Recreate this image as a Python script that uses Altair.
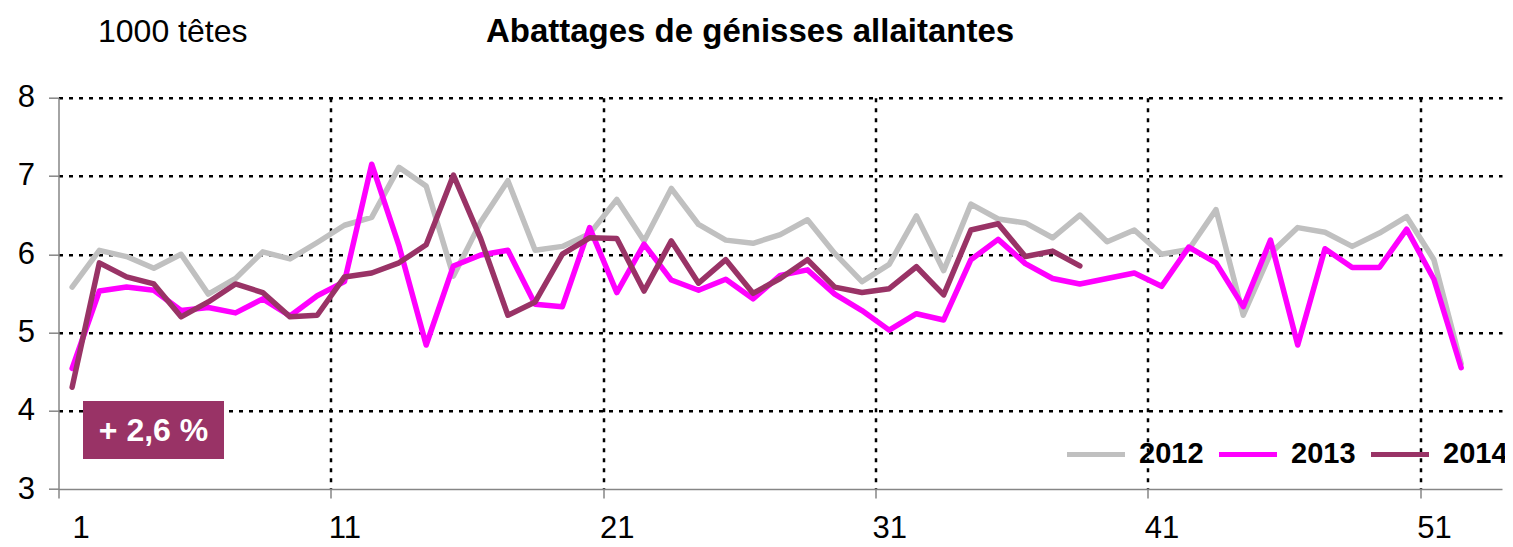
import altair as alt
import pandas as pd

FONT = "Liberation Sans"

years = ["2012", "2013", "2014"]
colors = ["#C0C0C0", "#FF00FF", "#993366"]

y2012 = [5.58, 6.05, 5.97, 5.82, 6.00, 5.49, 5.69, 6.03, 5.94, 6.15,
         6.37, 6.47, 7.11, 6.87, 5.72, 6.41, 6.94, 6.05, 6.10, 6.26,
         6.70, 6.17, 6.84, 6.38, 6.18, 6.14, 6.25, 6.44, 6.01, 5.65,
         5.87, 6.49, 5.79, 6.64, 6.45, 6.40, 6.21, 6.50, 6.16, 6.31,
         6.00, 6.06, 6.57, 5.22, 6.01, 6.34, 6.28, 6.10, 6.27, 6.48,
         5.93, 4.60]
y2013 = [4.54, 5.53, 5.58, 5.54, 5.28, 5.32, 5.25, 5.43, 5.21, 5.47,
         5.65, 7.15, 6.11, 4.84, 5.85, 5.99, 6.05, 5.36, 5.33, 6.34,
         5.51, 6.13, 5.67, 5.54, 5.68, 5.43, 5.73, 5.80, 5.49, 5.28,
         5.03, 5.24, 5.16, 5.93, 6.19, 5.88, 5.69, 5.62, 5.69, 5.76,
         5.59, 6.09, 5.89, 5.33, 6.18, 4.84, 6.07, 5.83, 5.83, 6.32,
         5.68, 4.55]
y2014 = [4.30, 5.89, 5.71, 5.62, 5.20, 5.39, 5.62, 5.51, 5.20, 5.22,
         5.71, 5.76, 5.89, 6.12, 7.01, 6.20, 5.22, 5.39, 6.00, 6.21,
         6.20, 5.53, 6.17, 5.63, 5.93, 5.50, 5.69, 5.93, 5.58, 5.51,
         5.56, 5.84, 5.48, 6.31, 6.39, 5.97, 6.04, 5.85]

x_tick_values = [0.5, 10.5, 20.5, 30.5, 40.5, 50.5]
y_tick_values = [3, 4, 5, 6, 7, 8]
title_text = ["Abattages de génisses allaitantes"]
annotation = ["+ 2,6 %"]

rows = []
for yr, vals in zip(years, [y2012, y2013, y2014]):
    for i, v in enumerate(vals):
        rows.append({"semaine": i + 1, "valeur": v, "annee": yr})
df = pd.DataFrame(rows)

W, H = 1443.5, 391.3

lines = alt.Chart(df).mark_line(strokeWidth=5.5, strokeCap="round", strokeJoin="round").encode(
    x=alt.X("semaine:Q",
            scale=alt.Scale(domain=[0.5, 53.5], nice=False, zero=False),
            axis=alt.Axis(values=x_tick_values, title=None,
                          labelExpr="format(datum.value + 0.5, 'd')",
                          labelOffset=13.6, labelFontSize=31, labelFont=FONT,
                          labelColor="black", labelPadding=15,
                          tickSize=9, tickColor="#868686", tickWidth=1.5,
                          domainColor="#868686", domainWidth=1.5,
                          grid=True, gridColor="black", gridWidth=2.5,
                          gridDash=[4, 6],
                          gridOpacity={"condition": {"test": "datum.value == 0.5", "value": 0}, "value": 1})),
    y=alt.Y("valeur:Q",
            scale=alt.Scale(domain=[3, 8], nice=False, zero=False),
            axis=alt.Axis(values=y_tick_values, title="1000 têtes",
                          titleAngle=0, titleAlign="left", titleBaseline="alphabetic",
                          titleX=39, titleY=-55.7, titleFont=FONT, titleFontSize=32,
                          titleFontWeight="normal", titleColor="black",
                          labelFontSize=31, labelFont=FONT, labelColor="black",
                          labelPadding=14,
                          tickSize=10, tickColor="#868686", tickWidth=1.5,
                          domainColor="#868686", domainWidth=1.5,
                          grid=True, gridColor="black", gridWidth=2.5,
                          gridDash=[4, 6],
                          gridOpacity={"condition": {"test": "datum.value == 3", "value": 0}, "value": 1})),
    color=alt.Color("annee:N",
                    scale=alt.Scale(domain=years, range=colors),
                    legend=alt.Legend(orient="none", legendX=1006, legendY=325,
                                      direction="horizontal", title=None,
                                      symbolType="stroke", symbolSize=3364,
                                      symbolStrokeWidth=5,
                                      labelFontSize=29, labelFont=FONT,
                                      labelFontWeight="bold", labelColor="black",
                                      labelOffset=11.5, columnPadding=4, padding=0)),
)

title_df = pd.DataFrame({"txt": title_text})
title = alt.Chart(title_df).mark_text(
    color="black", font=FONT, fontSize=33, fontWeight="bold",
    align="center", baseline="alphabetic"
).encode(x=alt.value(691.5), y=alt.value(-55.7), text="txt:N")

ann_df = pd.DataFrame({"txt": annotation})
box = alt.Chart(ann_df).mark_rect(color="#993366").encode(
    x=alt.value(24.5), x2=alt.value(165.5), y=alt.value(303.3), y2=alt.value(361.3)
)
box_text = alt.Chart(ann_df).mark_text(
    color="white", font=FONT, fontSize=32, fontWeight="bold",
    align="center", baseline="middle"
).encode(x=alt.value(95), y=alt.value(333), text="txt:N")

chart = alt.layer(lines, box, box_text, title).properties(
    width=W, height=H,
    padding={"left": 50.5, "top": 89.7, "right": 3, "bottom": 50},
    autosize="none",
).configure_view(stroke=None)

chart.save("out.html", embed_options={"renderer": "svg", "actions": False})
